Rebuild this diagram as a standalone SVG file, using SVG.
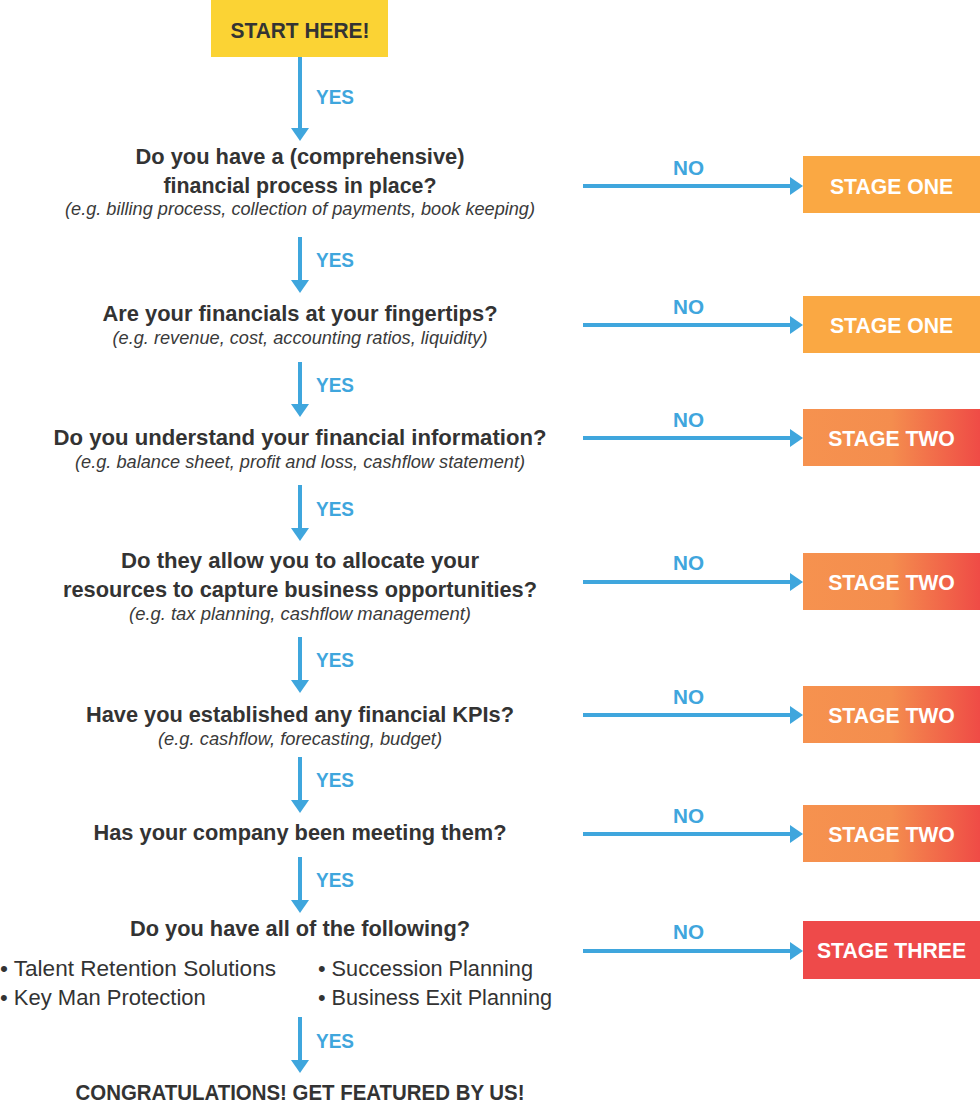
<svg xmlns="http://www.w3.org/2000/svg" width="980" height="1110" viewBox="0 0 980 1110">
<defs>
<style>
.q{font-family:"Liberation Sans",Arial,sans-serif;font-weight:bold;font-size:22px;fill:#333;text-anchor:middle}
.eg{font-family:"Liberation Sans",Arial,sans-serif;font-style:italic;font-size:19px;fill:#3a3a3a;text-anchor:middle}
.li{font-family:"Liberation Sans",Arial,sans-serif;font-size:22px;fill:#333}
.yes{font-family:"Liberation Sans",Arial,sans-serif;font-weight:bold;font-size:21px;fill:#3FA6DD}
.no{font-family:"Liberation Sans",Arial,sans-serif;font-weight:bold;font-size:21px;fill:#3FA6DD;text-anchor:middle}
.st{font-family:"Liberation Sans",Arial,sans-serif;font-weight:bold;font-size:21.2px;fill:#fff;text-anchor:middle}
.c{stroke:#3FA6DD;stroke-width:4;fill:none;marker-end:url(#ah)}
</style>
<marker id="ah" markerUnits="userSpaceOnUse" viewBox="0 0 13 18" refX="0" refY="9" markerWidth="13" markerHeight="18" orient="auto">
<path d="M0,0 L13,9 L0,18 Z" fill="#3FA6DD"/>
</marker>
<linearGradient id="g2" x1="0" y1="0" x2="1" y2="0">
<stop offset="0" stop-color="#F6924F"/>
<stop offset="0.5" stop-color="#F48D4E"/>
<stop offset="1" stop-color="#EF4B46"/>
</linearGradient>
</defs>

<g id="connectors">
<path class="c" d="M300,57 V128"/>
<path class="c" d="M300,237 V280"/>
<path class="c" d="M300,362 V404"/>
<path class="c" d="M300,485 V528"/>
<path class="c" d="M300,637 V680"/>
<path class="c" d="M300,757 V800"/>
<path class="c" d="M300,857 V900"/>
<path class="c" d="M300,1017 V1060"/>
<text class="yes" x="316" y="104" textLength="38" lengthAdjust="spacingAndGlyphs">YES</text>
<text class="yes" x="316" y="267" textLength="38" lengthAdjust="spacingAndGlyphs">YES</text>
<text class="yes" x="316" y="392" textLength="38" lengthAdjust="spacingAndGlyphs">YES</text>
<text class="yes" x="316" y="516" textLength="38" lengthAdjust="spacingAndGlyphs">YES</text>
<text class="yes" x="316" y="667" textLength="38" lengthAdjust="spacingAndGlyphs">YES</text>
<text class="yes" x="316" y="787" textLength="38" lengthAdjust="spacingAndGlyphs">YES</text>
<text class="yes" x="316" y="887" textLength="38" lengthAdjust="spacingAndGlyphs">YES</text>
<text class="yes" x="316" y="1048" textLength="38" lengthAdjust="spacingAndGlyphs">YES</text>
<path class="c" d="M583,186 H790"/>
<path class="c" d="M583,325 H790"/>
<path class="c" d="M583,438 H790"/>
<path class="c" d="M583,582 H790"/>
<path class="c" d="M583,715 H790"/>
<path class="c" d="M583,834 H790"/>
<path class="c" d="M583,951 H790"/>
<text class="no" x="688.5" y="175" textLength="31" lengthAdjust="spacingAndGlyphs">NO</text>
<text class="no" x="688.5" y="314" textLength="31" lengthAdjust="spacingAndGlyphs">NO</text>
<text class="no" x="688.5" y="427" textLength="31" lengthAdjust="spacingAndGlyphs">NO</text>
<text class="no" x="688.5" y="570" textLength="31" lengthAdjust="spacingAndGlyphs">NO</text>
<text class="no" x="688.5" y="704" textLength="31" lengthAdjust="spacingAndGlyphs">NO</text>
<text class="no" x="688.5" y="823" textLength="31" lengthAdjust="spacingAndGlyphs">NO</text>
<text class="no" x="688.5" y="939" textLength="31" lengthAdjust="spacingAndGlyphs">NO</text>
</g>

<g id="start">
<rect x="211" y="0" width="177" height="57" fill="#FBD334"/>
<text class="q" x="300" y="38" font-size="21" textLength="139" lengthAdjust="spacingAndGlyphs">START HERE!</text>
</g>

<g id="q1">
<text class="q" x="300" y="164" textLength="329" lengthAdjust="spacingAndGlyphs">Do you have a (comprehensive)</text>
<text class="q" x="300" y="193" textLength="273" lengthAdjust="spacingAndGlyphs">financial process in place?</text>
<text class="eg" x="300" y="215" textLength="470" lengthAdjust="spacingAndGlyphs">(e.g. billing process, collection of payments, book keeping)</text>
</g>
<g id="q2">
<text class="q" x="300" y="321" textLength="395" lengthAdjust="spacingAndGlyphs">Are your financials at your fingertips?</text>
<text class="eg" x="300" y="344" textLength="375" lengthAdjust="spacingAndGlyphs">(e.g. revenue, cost, accounting ratios, liquidity)</text>
</g>
<g id="q3">
<text class="q" x="300" y="445" textLength="493" lengthAdjust="spacingAndGlyphs">Do you understand your financial information?</text>
<text class="eg" x="300" y="468" textLength="450" lengthAdjust="spacingAndGlyphs">(e.g. balance sheet, profit and loss, cashflow statement)</text>
</g>
<g id="q4">
<text class="q" x="300" y="568" textLength="358" lengthAdjust="spacingAndGlyphs">Do they allow you to allocate your</text>
<text class="q" x="300" y="597" textLength="474" lengthAdjust="spacingAndGlyphs">resources to capture business opportunities?</text>
<text class="eg" x="300" y="620" textLength="342" lengthAdjust="spacingAndGlyphs">(e.g. tax planning, cashflow management)</text>
</g>
<g id="q5">
<text class="q" x="300" y="722" textLength="428" lengthAdjust="spacingAndGlyphs">Have you established any financial KPIs?</text>
<text class="eg" x="300" y="745" textLength="284" lengthAdjust="spacingAndGlyphs">(e.g. cashflow, forecasting, budget)</text>
</g>
<g id="q6">
<text class="q" x="300" y="840" textLength="413" lengthAdjust="spacingAndGlyphs">Has your company been meeting them?</text>
</g>
<g id="q7">
<text class="q" x="300" y="936" textLength="340" lengthAdjust="spacingAndGlyphs">Do you have all of the following?</text>
<text class="li" x="0" y="976" textLength="276" lengthAdjust="spacingAndGlyphs">• Talent Retention Solutions</text>
<text class="li" x="0" y="1005">• Key Man Protection</text>
<text class="li" x="318" y="976" textLength="215" lengthAdjust="spacingAndGlyphs">• Succession Planning</text>
<text class="li" x="318" y="1005" textLength="234" lengthAdjust="spacingAndGlyphs">• Business Exit Planning</text>
</g>
<g id="end">
<text class="q" x="300" y="1100" font-size="21" textLength="449" lengthAdjust="spacingAndGlyphs">CONGRATULATIONS! GET FEATURED BY US!</text>
</g>

<g id="stage1a">
<rect x="803" y="156" width="177" height="57" fill="#FAA843"/>
<text class="st" x="891.5" y="194">STAGE ONE</text>
</g>
<g id="stage1b">
<rect x="803" y="296" width="177" height="57" fill="#FAA843"/>
<text class="st" x="891.5" y="333">STAGE ONE</text>
</g>
<g id="stage2a">
<rect x="803" y="409" width="177" height="57" fill="url(#g2)"/>
<text class="st" x="891.5" y="446">STAGE TWO</text>
</g>
<g id="stage2b">
<rect x="803" y="553" width="177" height="57" fill="url(#g2)"/>
<text class="st" x="891.5" y="590">STAGE TWO</text>
</g>
<g id="stage2c">
<rect x="803" y="686" width="177" height="57" fill="url(#g2)"/>
<text class="st" x="891.5" y="723">STAGE TWO</text>
</g>
<g id="stage2d">
<rect x="803" y="805" width="177" height="57" fill="url(#g2)"/>
<text class="st" x="891.5" y="842">STAGE TWO</text>
</g>
<g id="stage3">
<rect x="803" y="921" width="177" height="58" fill="#EE4A4A"/>
<text class="st" x="891.5" y="958">STAGE THREE</text>
</g>
</svg>
